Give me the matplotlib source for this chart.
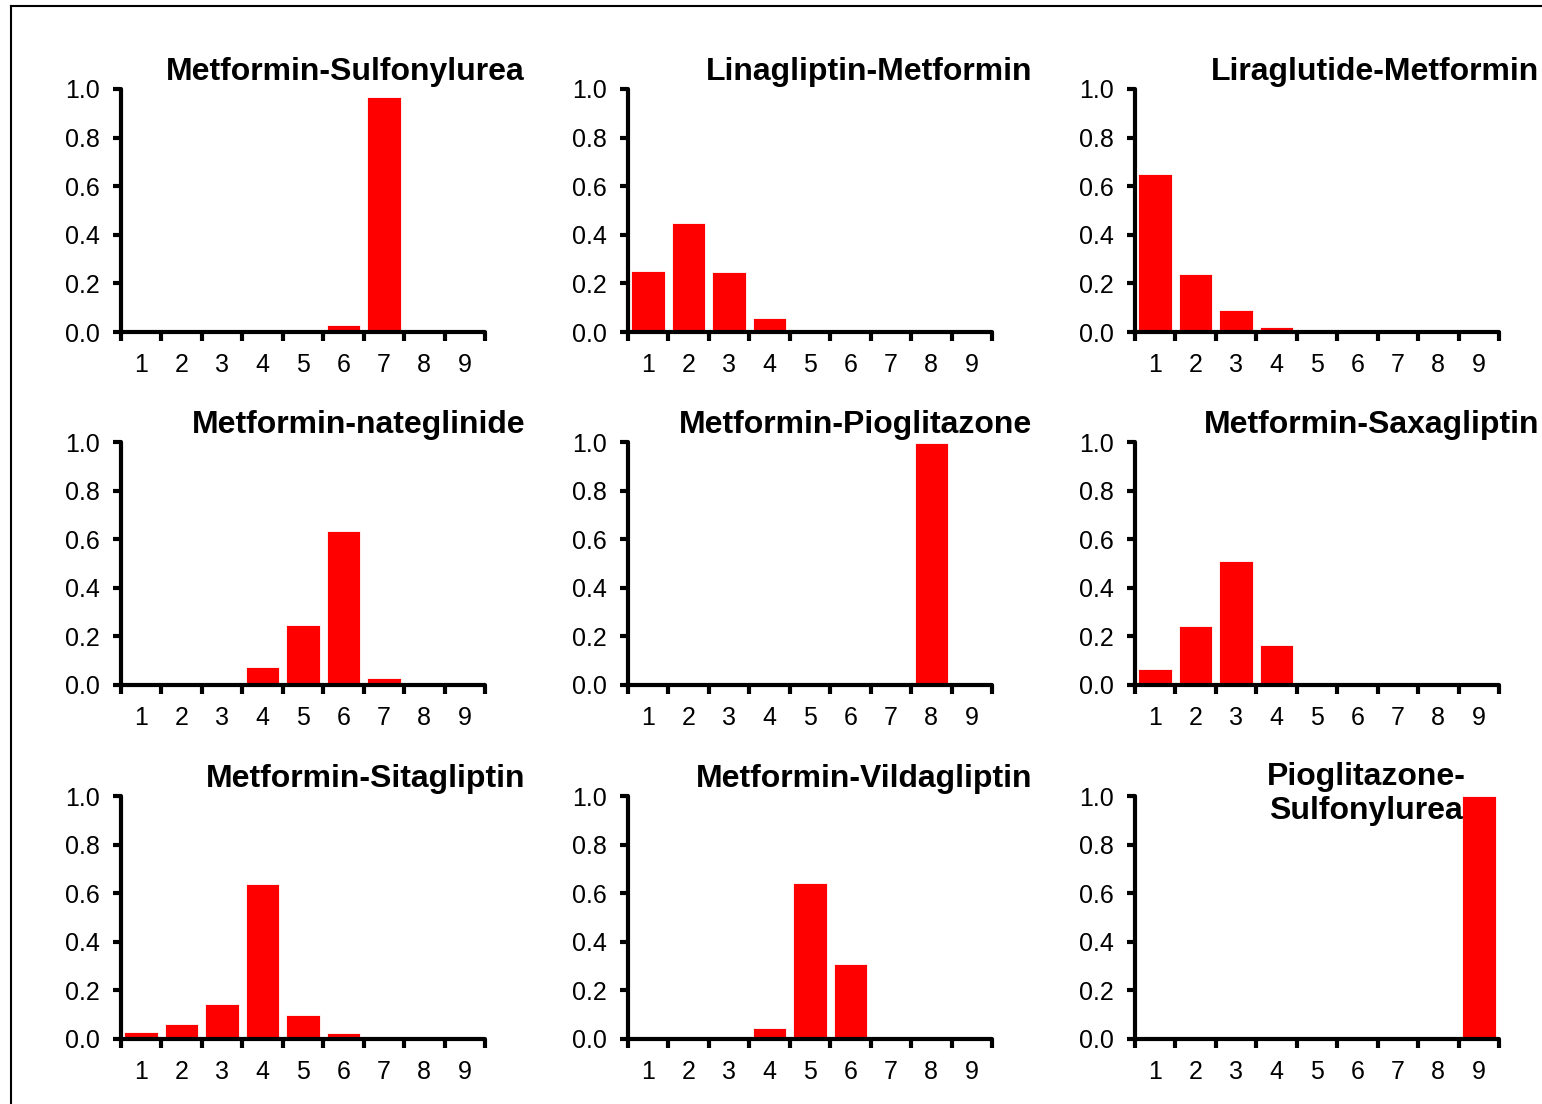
import matplotlib
matplotlib.use("Agg")
import matplotlib.pyplot as plt
from matplotlib.lines import Line2D
import numpy as np

plt.rcParams['font.family'] = ['Liberation Sans', 'DejaVu Sans']

titles = ["Metformin-Sulfonylurea", "Linagliptin-Metformin", "Liraglutide-Metformin",
          "Metformin-nateglinide", "Metformin-Pioglitazone", "Metformin-Saxagliptin",
          "Metformin-Sitagliptin", "Metformin-Vildagliptin", "Pioglitazone-\nSulfonylurea"]
categories = [1, 2, 3, 4, 5, 6, 7, 8, 9]
metformin_sulfonylurea = [0, 0, 0, 0, 0, 0.03, 0.967, 0, 0]
linagliptin_metformin = [0.25, 0.449, 0.247, 0.058, 0, 0, 0, 0, 0]
liraglutide_metformin = [0.65, 0.239, 0.09, 0.02, 0, 0, 0, 0, 0]
metformin_nateglinide = [0, 0, 0, 0.074, 0.247, 0.634, 0.029, 0, 0]
metformin_pioglitazone = [0, 0, 0, 0, 0, 0, 0, 0.996, 0]
metformin_saxagliptin = [0.066, 0.243, 0.510, 0.165, 0, 0, 0, 0, 0]
metformin_sitagliptin = [0.029, 0.062, 0.144, 0.638, 0.099, 0.025, 0, 0, 0]
metformin_vildagliptin = [0, 0, 0, 0.045, 0.642, 0.309, 0, 0, 0]
pioglitazone_sulfonylurea = [0, 0, 0, 0, 0, 0, 0, 0, 1.0]
series = [metformin_sulfonylurea, linagliptin_metformin, liraglutide_metformin,
          metformin_nateglinide, metformin_pioglitazone, metformin_saxagliptin,
          metformin_sitagliptin, metformin_vildagliptin, pioglitazone_sulfonylurea]
yticks = [0.0, 0.2, 0.4, 0.6, 0.8, 1.0]
ytick_labels = ["0.0", "0.2", "0.4", "0.6", "0.8", "1.0"]

W, H = 1542, 1104
fig = plt.figure(figsize=(W / 100, H / 100), dpi=100)

col_left = [121, 628, 1135]
row_top = [89, 442, 796]
ax_w, ax_h = 364, 243

for i, (title, vals) in enumerate(zip(titles, series)):
    r, c = divmod(i, 3)
    L = col_left[c]
    T = row_top[r]
    ax = fig.add_axes([L / W, 1 - (T + ax_h) / H, ax_w / W, ax_h / H])
    ax.bar(categories, vals, width=0.83, color='#ff0000', edgecolor='white',
           linewidth=0.6, zorder=2)
    ax.set_xlim(0.5, 9.5)
    ax.set_ylim(0, 1.0)
    for s in ['top', 'right']:
        ax.spines[s].set_visible(False)
    for s in ['left', 'bottom']:
        ax.spines[s].set_linewidth(3)
        ax.spines[s].set_capstyle('round')
        ax.spines[s].set_zorder(3)
    ax.set_yticks(yticks)
    ax.set_yticklabels(ytick_labels)
    ax.set_xticks(np.arange(0.5, 10, 1.0))
    ax.set_xticks(categories, minor=True)
    ax.set_xticklabels([])
    ax.set_xticklabels([str(v) for v in categories], minor=True)
    ax.tick_params(axis='y', direction='out', length=6, width=3, labelsize=18, pad=9)
    ax.tick_params(axis='x', which='major', direction='out', length=6.5, width=3)
    ax.tick_params(axis='x', which='minor', length=0, labelsize=18, pad=15)
    ax.patch.set_visible(False)
    if '\n' in title:
        fig.text(1366 / W, 1 - 794 / H, title, ha='center', va='center',
                 fontsize=23, fontweight='bold', linespacing=1.15)
    else:
        fig.text((L + ax_w + 40) / W, 1 - 80 / H - (T - 89) / H, title,
                 ha='right', va='baseline', fontsize=23, fontweight='bold')

# outer frame
fig.add_artist(Line2D([11 / W, 11 / W], [1 - 6 / H, 0], transform=fig.transFigure,
                      color='black', linewidth=1.5))
fig.add_artist(Line2D([11 / W, 1], [1 - 6 / H, 1 - 6 / H], transform=fig.transFigure,
                      color='black', linewidth=1.5))

fig.savefig("out.png", dpi=100)
